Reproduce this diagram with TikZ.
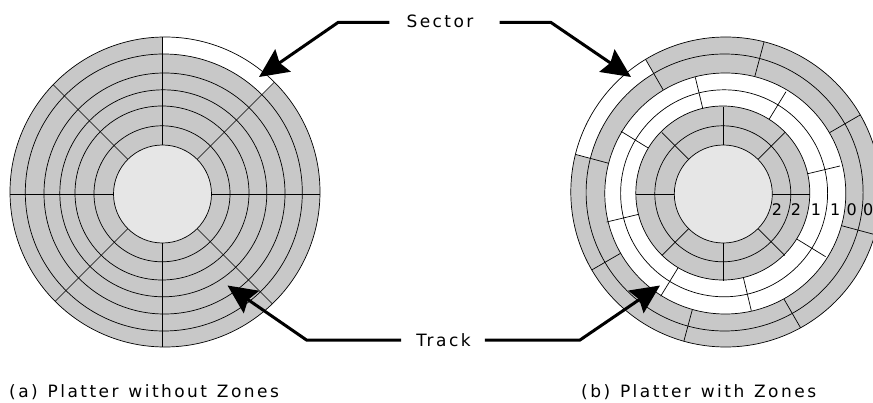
\documentclass[tikz,border=0pt]{standalone}
\usepackage{fontspec}
\setmainfont[LetterSpace=14.5,WordSpace=1.25]{DejaVu Sans}
\newfontfamily\digitfont{DejaVu Sans}
\usetikzlibrary{arrows.meta}
\definecolor{platter}{HTML}{C8C8C8}
\definecolor{spindle}{HTML}{E6E6E6}
\tikzset{
  ring/.style={draw=black, line width=0.7pt},
  divider/.style={draw=black, line width=0.7pt},
  pointer/.style={line width=3pt, line join=miter, -{Stealth[length=29pt, width=27pt, inset=4pt]}},
  label/.style={inner sep=0pt, anchor=base, font=\fontsize{17}{19}\selectfont},
  number/.style={inner sep=0pt, font=\digitfont\fontsize{16}{18}\selectfont},
}
\begin{document}
\begin{tikzpicture}[x=1pt, y=1pt]
\useasboundingbox (0,0) rectangle (873,402);
\clip (0,0) rectangle (873,402);

% platter without zones
\begin{scope}[shift={(162.5,208)}]
\fill [platter] (2.5,2) circle (155);
\begin{scope}
\clip (2.5,2) circle (155);
\fill [white] (0,0) -- (45:200) -- (90:200) -- cycle;
\fill [platter] (1.3,1.5) circle (138.5);
\foreach \a in {0,45,...,315}
  \draw [divider] (0,0) -- (\a:170);
\end{scope}
\draw [ring] (2.5,2) circle (155);
\draw [ring] (1.3,1.5) circle (138.5);
\draw [ring] (2,0.5) circle (120.5);
\draw [ring] (0.8,0.7) circle (103.5);
\draw [ring] (-0.5,1) circle (87);
\draw [ring] (-0.5,0.2) circle (68);
\draw [ring, fill=spindle] (0,0) circle (49);
\end{scope}

% platter with zones
\begin{scope}[shift={(723.3,208)}]
\fill [platter] (2.5,2) circle (155);
\begin{scope}
\clip (2.5,2) circle (155);
\fill [white] (0,0) -- (120:200) -- (165:200) -- cycle;
\fill [platter] (1.3,1.5) circle (138.5);
\foreach \a in {30,75,...,345}
  \draw [divider] (0,0) -- (\a:170);
\end{scope}
\draw [ring] (2.5,2) circle (155);
\draw [ring] (1.3,1.5) circle (138.5);
\draw [ring, fill=white] (2,0.5) circle (120.5);
\foreach \a in {13.5,58.5,...,328.5}
  \draw [divider] (0,0) -- (\a:120);
\draw [ring] (0.8,0.7) circle (103.5);
\draw [ring, fill=platter] (-0.5,1) circle (87);
\foreach \a in {0,45,...,315}
  \draw [divider] (0,0) -- (\a:87);
\draw [ring] (-0.5,0.2) circle (68);
\draw [ring, fill=spindle] (0,0) circle (49);
\node [number] (zoneA) at (53.7,-16) {2};
\node [number] (zoneB) at (72.7,-16) {2};
\node [number] (zoneC) at (92.7,-16) {1};
\node [number] (zoneD) at (112,-16) {1};
\node [number] (zoneE) at (128.4,-16) {0};
\node [number] (zoneF) at (145,-16) {0};
\end{scope}

\node [label] (Sector) at (440,374.2) {Sector};
\node [label] (Track) at (443.5,56) {Track};
\node [label, anchor=base west] (captionA) at (9,4.5) {(a) Platter without Zones};
\node [label, anchor=base west] (captionB) at (581,4.5) {(b) Platter with Zones};

\coordinate (sectorBendA) at (338,379.5);
\coordinate (sectorTipA) at (259,325);
\coordinate (sectorBendB) at (551,379.5);
\coordinate (sectorTipB) at (631,325);
\coordinate (trackBendA) at (306.5,62);
\coordinate (trackTipA) at (227.5,116.5);
\coordinate (trackBendB) at (580,62);
\coordinate (trackTipB) at (660,116.5);

\draw [pointer, shorten <=17pt] (Sector.west |- sectorBendA) -- (sectorBendA) -- (sectorTipA);
\draw [pointer, shorten <=26pt] (Sector.east |- sectorBendB) -- (sectorBendB) -- (sectorTipB);
\draw [pointer, shorten <=15pt] (Track.west |- trackBendA) -- (trackBendA) -- (trackTipA);
\draw [pointer, shorten <=14pt] (Track.east |- trackBendB) -- (trackBendB) -- (trackTipB);

\end{tikzpicture}
\end{document}
